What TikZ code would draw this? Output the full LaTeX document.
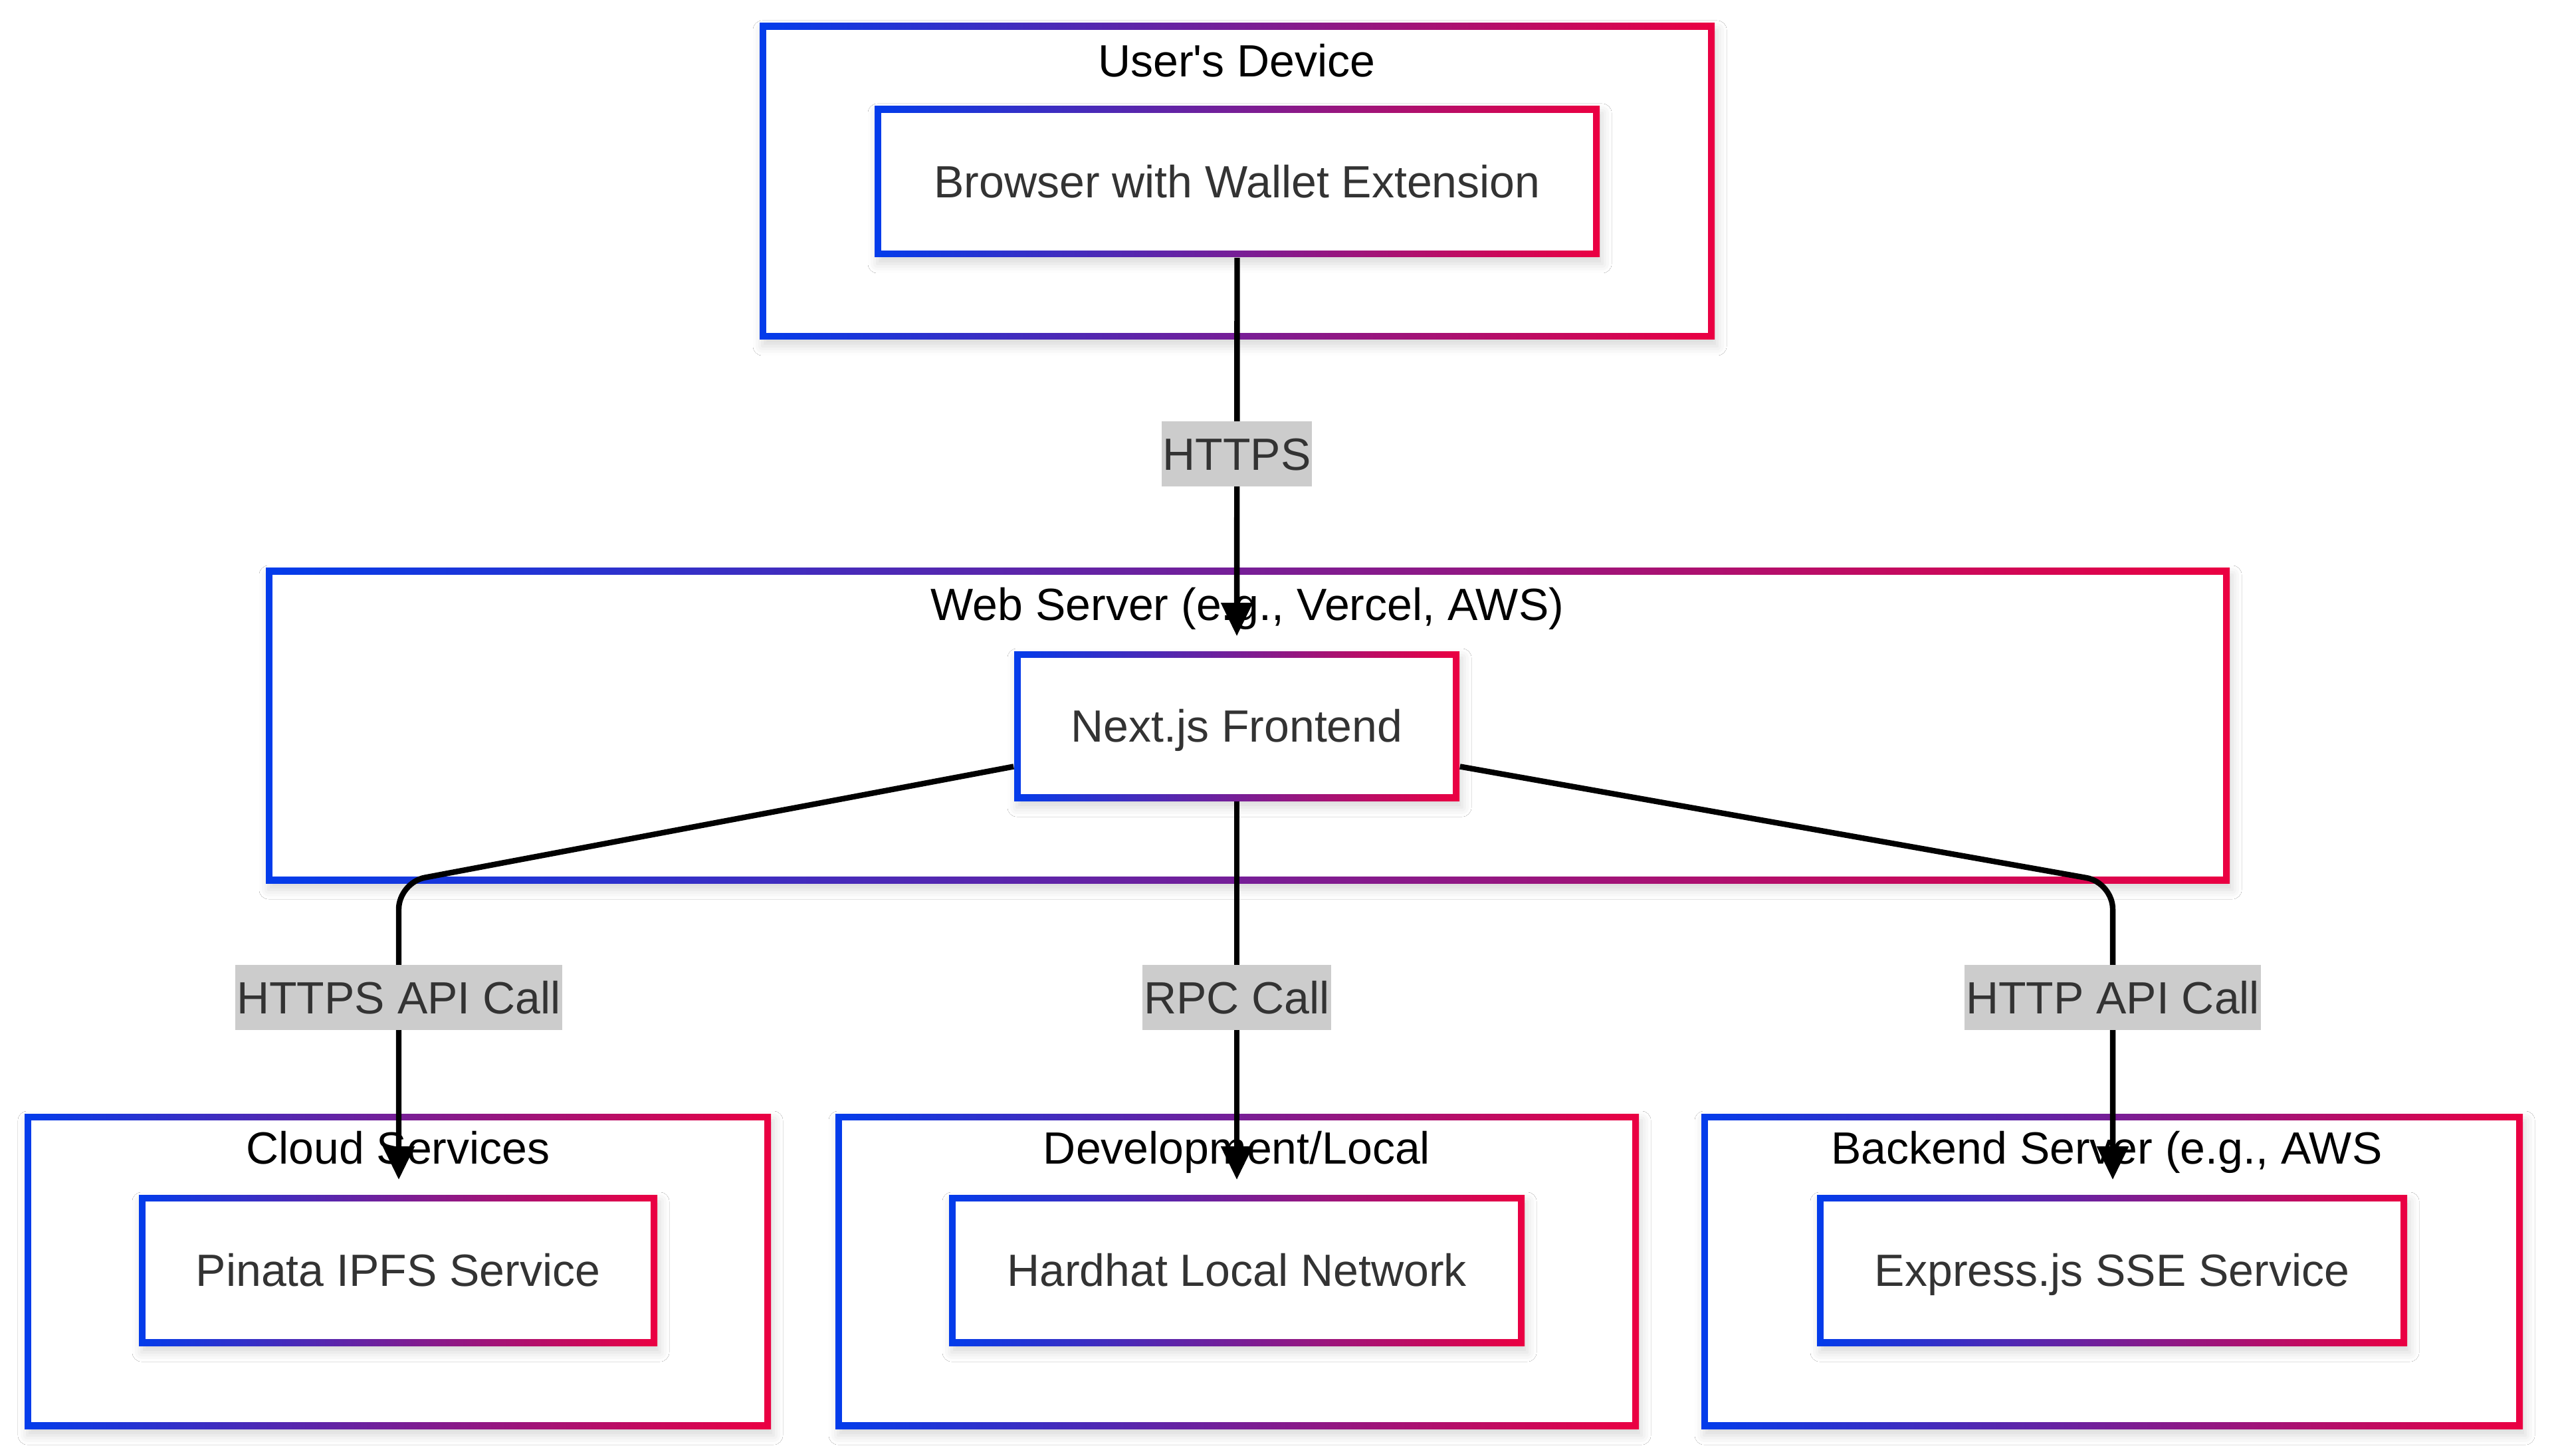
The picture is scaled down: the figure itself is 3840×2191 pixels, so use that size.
\documentclass[tikz,border=0pt]{standalone}
\usepackage{fontspec}
\setmainfont{Liberation Sans}
\usetikzlibrary{shadows.blur,arrows.meta}
\definecolor{gblue}{RGB}{3,60,235}
\definecolor{gred}{RGB}{235,0,66}
\definecolor{txt}{HTML}{333333}
\definecolor{lblbg}{HTML}{CCCCCC}
\tikzset{
  gbox/.style n args={2}{rectangle, inner sep=0pt,
    minimum width={#1*0.25pt}, minimum height={#2*0.25pt},
    left color=gblue, right color=gred,
    blur shadow={shadow xshift=1pt, shadow yshift=-2.5pt, shadow blur radius=3.5pt, shadow opacity=15},
    path picture={\fill[white] ([xshift=2.5pt,yshift=2.5pt]path picture bounding box.south west) rectangle ([xshift=-2.5pt,yshift=-2.5pt]path picture bounding box.north east);},
    text=txt, text height=12.2pt, text depth=0pt},
  ctitle/.style={inner sep=0pt, text=black, text height=12.2pt, text depth=0pt},
  conn/.style={line width=2.1pt, -{Triangle[length=12.5pt,width=11.5pt]}, shorten >=5.5pt},
  lbl/.style={fill=lblbg, text=txt, inner xsep=0.5pt, inner ysep=0pt, minimum height=24.5pt, text height=12.2pt, text depth=0pt}
}
\begin{document}
\begin{tikzpicture}[x=0.25pt, y=-0.25pt, font=\fontsize{17}{20}\selectfont]
\fill[white] (0,0) rectangle (3840,2191);
\useasboundingbox (0,0) rectangle (3840,2191);
% clusters
\node[gbox={1437}{476}] (cUser) at (1861.5,273) {};
\node[gbox={2955}{474}] (cWeb) at (1877.5,1092) {};
\node[gbox={1123}{474}] (cCloud) at (598.5,1913) {};
\node[gbox={1209}{474}] (cDev) at (1861.5,1913) {};
\node[gbox={1236}{474}] (cBack) at (3178,1913) {};
% cluster titles
\node[ctitle] (tUser) at (1861,91) {User\textquotesingle s Device};
\node[ctitle] (tWeb) at (1877,909) {Web Server (e.g., Vercel, AWS)};
\node[ctitle] (tCloud) at (599,1727) {Cloud Services};
\node[ctitle] (tDev) at (1861,1727) {Development/Local};
\node[ctitle] (tBack) at (3170,1727) {Backend Server (e.g., AWS};
% nodes
\node[gbox={1091}{227}] (browser) at (1861.5,273.5) {Browser with Wallet Extension};
\node[gbox={670}{225}] (next) at (1861,1092.5) {Next.js Frontend};
\node[gbox={780}{227}] (pinata) at (599,1911.5) {Pinata IPFS Service};
\node[gbox={866}{227}] (hardhat) at (1861,1911.5) {Hardhat Local Network};
\node[gbox={888}{227}] (express) at (3178,1911.5) {Express.js SSE Service};
% connectors
\coordinate (cl) at (600,1328);
\coordinate (cr) at (3179,1328);
\draw[conn] (browser.south) -- (next.north);
\draw[conn, rounded corners=10pt] ([yshift=-15.25pt]next.west) -- (cl) -- (pinata.north -| cl);
\draw[conn] (next.south) -- (hardhat.north);
\draw[conn, rounded corners=10pt] ([yshift=-15.25pt]next.east) -- (cr) -- (express.north -| cr);
% labels
\node[lbl] (l1) at (1861,683) {HTTPS};
\node[lbl] (l2) at (600,1501) {HTTPS API Call};
\node[lbl] (l3) at (1861,1501) {RPC Call};
\node[lbl] (l4) at (3179,1501) {HTTP API Call};
\end{tikzpicture}
\end{document}
